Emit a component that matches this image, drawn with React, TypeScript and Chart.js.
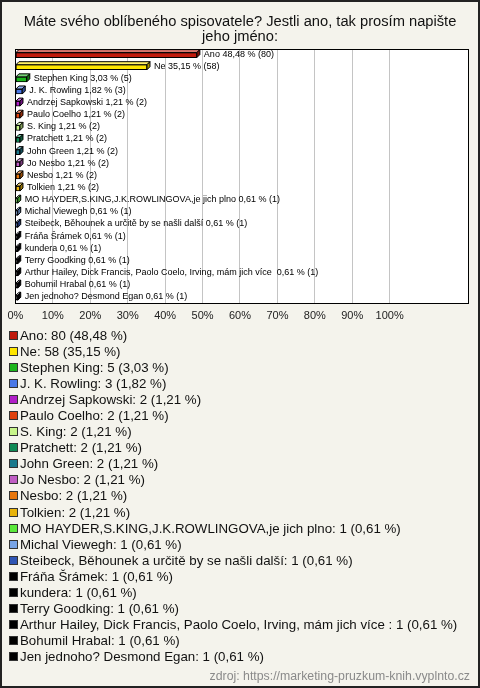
import React, { useEffect, useRef } from 'react';
import { Chart, registerables } from 'chart.js';

Chart.register(...registerables);

const TITLE = ['Máte svého oblíbeného spisovatele? Jestli ano, tak prosím napište', 'jeho jméno:'];
const SOURCE = 'zdroj: https://marketing-pruzkum-knih.vyplnto.cz';

const CATEGORIES = [
  'Ano',
  'Ne',
  'Stephen King',
  'J. K. Rowling',
  'Andrzej Sapkowski',
  'Paulo Coelho',
  'S. King',
  'Pratchett',
  'John Green',
  'Jo Nesbo',
  'Nesbo',
  'Tolkien',
  'MO HAYDER,S.KING,J.K.ROWLINGOVA,je jich plno',
  'Michal Viewegh',
  'Steibeck, Běhounek a určitě by se našli další',
  'Fráňa Šrámek',
  'kundera',
  'Terry Goodking',
  'Arthur Hailey, Dick Francis, Paolo Coelo, Irving, mám jich více ',
  'Bohumil Hrabal',
  'Jen jednoho? Desmond Egan',
];

const COUNTS = [80, 58, 5, 3, 2, 2, 2, 2, 2, 2, 2, 2, 1, 1, 1, 1, 1, 1, 1, 1, 1];

const PERCENTS = [
  48.48, 35.15, 3.03, 1.82, 1.21, 1.21, 1.21, 1.21, 1.21, 1.21, 1.21, 1.21,
  0.61, 0.61, 0.61, 0.61, 0.61, 0.61, 0.61, 0.61, 0.61,
];

const COLORS = [
  '#c01a0c',
  '#ffe600',
  '#1cb51c',
  '#4a78e6',
  '#b01ec8',
  '#e0420e',
  '#c8f58a',
  '#0f8a55',
  '#1b7a8c',
  '#c05ec4',
  '#e8760c',
  '#e8b40c',
  '#5ae83a',
  '#78a4e6',
  '#2f55b4',
  '#000000',
  '#000000',
  '#000000',
  '#000000',
  '#000000',
  '#000000',
];

const X_TICKS = [0, 10, 20, 30, 40, 50, 60, 70, 80, 90, 100];
const X_MAX = 121.2;

const fmt = (v: number) => v.toFixed(2).replace('.', ',');

function mix(hex: string, target: number, amt: number) {
  const n = parseInt(hex.slice(1), 16);
  const r = (n >> 16) & 255, g = (n >> 8) & 255, b = n & 255;
  const m = (c: number) => Math.round(c + (target - c) * amt);
  return `rgb(${m(r)},${m(g)},${m(b)})`;
}

const DEPTH = 3;

const bar3dPlugin = {
  id: 'bar3d',
  beforeDraw(chart: any) {
    const { ctx, chartArea: a } = chart;
    ctx.save();
    ctx.fillStyle = '#ffffff';
    ctx.fillRect(a.left, a.top, a.right - a.left, a.bottom - a.top);
    ctx.restore();
  },
  beforeDatasetsDraw(chart: any) {
    const { ctx, chartArea: a } = chart;
    ctx.save();
    ctx.strokeStyle = '#000';
    ctx.lineWidth = 1;
    ctx.strokeRect(Math.round(a.left) + 0.5, Math.round(a.top) + 0.5, Math.round(a.right - a.left) - 1, Math.round(a.bottom - a.top) - 1);
    ctx.restore();
  },
  afterDatasetsDraw(chart: any) {
    const { ctx } = chart;
    const meta = chart.getDatasetMeta(0);
    ctx.save();
    ctx.lineWidth = 1;
    ctx.strokeStyle = '#000';
    meta.data.forEach((el: any, i: number) => {
      const { x, y, base, height } = el.getProps(['x', 'y', 'base', 'height'], true);
      const top = y - height / 2;
      const bottom = y + height / 2;
      const d = DEPTH;
      const c = COLORS[i];
      ctx.beginPath();
      ctx.moveTo(base, top);
      ctx.lineTo(base + d, top - d);
      ctx.lineTo(x + d, top - d);
      ctx.lineTo(x, top);
      ctx.closePath();
      ctx.fillStyle = mix(c, 255, c === '#000000' ? 0.85 : 0.4);
      ctx.fill();
      ctx.stroke();
      ctx.beginPath();
      ctx.moveTo(x, top);
      ctx.lineTo(x + d, top - d);
      ctx.lineTo(x + d, bottom - d);
      ctx.lineTo(x, bottom);
      ctx.closePath();
      ctx.fillStyle = mix(c, 0, 0.35);
      ctx.fill();
      ctx.stroke();

      ctx.fillStyle = '#000';
      ctx.font = '9px Arial, "Liberation Sans", sans-serif';
      ctx.textBaseline = 'middle';
      ctx.textAlign = 'left';
      ctx.fillText(`${CATEGORIES[i]} ${fmt(PERCENTS[i])} % (${COUNTS[i]})`, x + 7, y - 1);
    });
    ctx.restore();
  },
};

export default function App() {
  const canvasRef = useRef<HTMLCanvasElement | null>(null);

  useEffect(() => {
    const canvas = canvasRef.current;
    if (!canvas) return;
    const chart = new Chart(canvas, {
      type: 'bar',
      data: {
        labels: CATEGORIES,
        datasets: [
          {
            data: PERCENTS,
            backgroundColor: COLORS,
            borderColor: '#000',
            borderWidth: 1,
            borderSkipped: false,
            barThickness: 5,
          },
        ],
      },
      options: {
        indexAxis: 'y',
        responsive: false,
        animation: false,
        devicePixelRatio: 1,
        layout: { padding: { left: 9, right: 9, top: 0, bottom: 0 } },
        scales: {
          x: {
            type: 'linear',
            min: 0,
            max: X_MAX,
            border: { display: false },
            grid: {
              drawTicks: false,
              lineWidth: 1,
              color: (ctx: any) =>
                ctx.tick && ctx.tick.value > 0 && X_TICKS.includes(ctx.tick.value) ? '#c4c4c4' : 'rgba(0,0,0,0)',
            },
            ticks: {
              stepSize: 10,
              autoSkip: false,
              maxRotation: 0,
              padding: 5.5,
              color: '#222',
              font: { size: 11, family: 'Arial, "Liberation Sans", sans-serif' },
              callback: (v: any) => (X_TICKS.includes(v) ? `${v}%` : ''),
            },
          },
          y: { display: false },
        },
        plugins: {
          legend: { display: false },
          tooltip: { enabled: false },
          title: {
            display: true,
            text: TITLE,
            color: '#111',
            font: { size: 14.7, family: 'Arial, "Liberation Sans", sans-serif', weight: 'normal', lineHeight: 1 },
            padding: { top: 12.5, bottom: 5.1 },
          },
        },
      },
      plugins: [bar3dPlugin],
    } as any);
    return () => chart.destroy();
  }, []);

  return (
    <div
      style={{
        position: 'fixed',
        left: 0,
        top: 0,
        width: 480,
        height: 688,
        boxSizing: 'border-box',
        border: '2px solid #222',
        background: '#f4f3ec',
        fontFamily: 'Arial, "Liberation Sans", sans-serif',
        overflow: 'hidden',
      }}
    >
      <canvas ref={canvasRef} width={476} height={326} style={{ position: 'absolute', left: 0, top: 0 }} />
      <div style={{ position: 'absolute', left: 0, top: 325 }}>
        {CATEGORIES.map((name, i) => (
          <div key={i} style={{ height: 16.1, display: 'flex', alignItems: 'center', fontSize: 13.3, color: '#111', whiteSpace: 'pre' }}>
            <span
              style={{
                display: 'inline-block',
                width: 7,
                height: 7,
                border: '1px solid #333',
                background: COLORS[i],
                marginLeft: 7,
                marginRight: 2,
              }}
            />
            <span>{`${name}: ${COUNTS[i]} (${fmt(PERCENTS[i])} %)`}</span>
          </div>
        ))}
      </div>
      <div style={{ position: 'absolute', right: 8, top: 667, fontSize: 12.3, lineHeight: '14px', color: '#8a8a8a' }}>{SOURCE}</div>
    </div>
  );
}
